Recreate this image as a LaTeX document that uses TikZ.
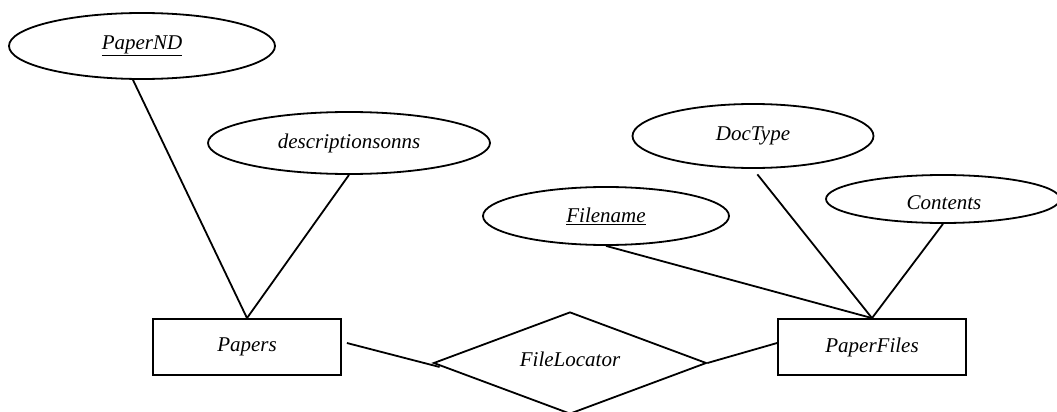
\documentclass[tikz,border=0pt]{standalone}
\usepackage{fontspec}
\setmainfont{Liberation Serif}
\usetikzlibrary{shapes.geometric}
\begin{document}
\begin{tikzpicture}[x=1pt,y=-1pt,
  every node/.style={font=\fontsize{21}{25}\selectfont\itshape, inner sep=0pt},
  attr/.style={draw, ellipse, line width=1.8pt},
  entity/.style={draw, rectangle, line width=1.8pt, minimum width=188pt, minimum height=56pt},
  rel/.style={draw, diamond, line width=1.8pt, aspect=2.68, minimum width=273pt, minimum height=102pt},
  conn/.style={line width=1.8pt}]
\useasboundingbox (0,0) rectangle (1057,412);
% attributes
\node[attr, minimum width=266pt, minimum height=66pt] (pnd) at (142,46) {\underline{PaperND}};
\node[attr, minimum width=282pt, minimum height=62pt] (desc) at (349,143) {descriptionsonns};
\node[attr, minimum width=241pt, minimum height=64pt] (doc) at (753,136) {DocType};
\node[attr, minimum width=246pt, minimum height=58pt] (fn) at (606,216) {\underline{Filename}};
\node[attr, minimum width=234pt, minimum height=48pt] (cont) at (943,199) {};
\begin{scope}
\clip (830,185) rectangle (1057,210);
\node (conttext) at (944,203) {Contents};
\end{scope}
% entities
\node[entity] (papers) at (247,347) {Papers};
\node[entity] (pf) at (872,347) {PaperFiles};
% relationship
\node[rel] (fl) at (570,363) {};
\node (fltext) at (570,359) {FileLocator};
% connectors
\draw[conn] (pnd.255) -- (papers.north);
\draw[conn] (desc.south) -- (papers.north);
\draw[conn] ([xshift=5pt,yshift=4pt]papers.east) -- ([xshift=7pt,yshift=-4pt]fl.west);
\draw[conn] (fl.east) -- ([yshift=4pt]pf.west);
\draw[conn] (fn.south) -- (pf.north);
\draw[conn, shorten <=7pt] (doc.south) -- (pf.north);
\draw[conn] (cont.south) -- (pf.north);
\end{tikzpicture}
\end{document}
